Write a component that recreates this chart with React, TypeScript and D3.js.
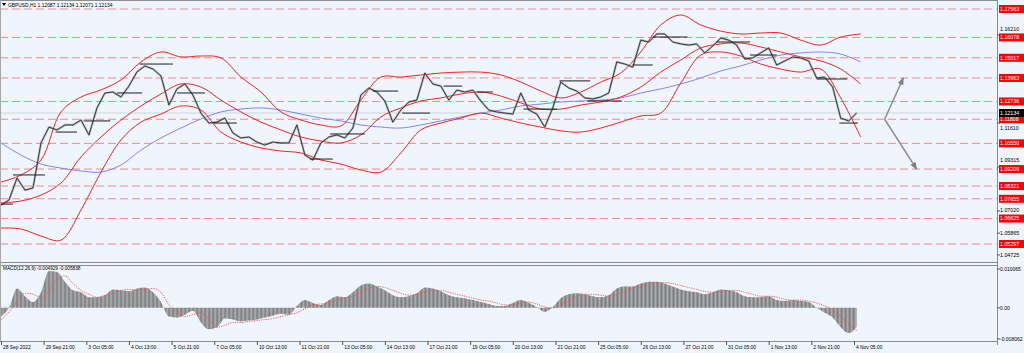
import * as d3 from "d3";

// GBPUSD H1 closes, one value every 6 bars
const closes = [
  1.0733, 1.0759, 1.0874, 1.0811, 1.0822, 1.1057, 1.114, 1.1125, 1.1151, 1.1151,
  1.1177, 1.1099, 1.124, 1.1318, 1.1323, 1.1297, 1.1354, 1.1428, 1.1459, 1.1443,
  1.1407, 1.1255, 1.1339, 1.1365, 1.1307, 1.1213, 1.1161, 1.1166, 1.1187, 1.1109,
  1.1083, 1.1088, 1.1062, 1.1046, 1.1062, 1.1057, 1.1057, 1.1151, 1.0994, 1.0968,
  1.1057, 1.1088, 1.1099, 1.1083, 1.1135, 1.1307, 1.1344, 1.1323, 1.1276, 1.1166,
  1.1229, 1.1271, 1.1281, 1.1422, 1.1365, 1.1354, 1.1281, 1.1333, 1.1323, 1.1333,
  1.1276, 1.1229, 1.1219, 1.1213, 1.1208, 1.1318, 1.1229, 1.1208, 1.114, 1.124,
  1.1375, 1.1344, 1.1328, 1.1292, 1.1287, 1.1297, 1.1318, 1.148, 1.1469, 1.1453,
  1.1594, 1.1584, 1.1626, 1.1626, 1.1584, 1.1574, 1.1568, 1.1574, 1.1527, 1.1563,
  1.1605, 1.1594, 1.1568, 1.1495, 1.1501, 1.1527, 1.1553, 1.1464, 1.1485, 1.1506,
  1.1501, 1.1485, 1.1396, 1.1401, 1.1349, 1.1187, 1.1172, 1.12134,
];

// Bollinger bands + slow MA, one value every 15 bars
const upperBand = [
  1.0853, 1.089, 1.0968, 1.1219, 1.1297, 1.1334, 1.1386, 1.148, 1.1532, 1.1506,
  1.1511, 1.1501, 1.1401, 1.1323, 1.1219, 1.1177, 1.1151, 1.1146, 1.1281, 1.1401,
  1.1401, 1.1412, 1.1422, 1.1427, 1.1427, 1.1412, 1.1375, 1.1328, 1.1292, 1.1323,
  1.1375, 1.1422, 1.1532, 1.1673, 1.1725, 1.1673, 1.1641, 1.1626, 1.1631, 1.1631,
  1.1594, 1.1568, 1.161, 1.1626,
];
const middleBand = [
  1.0744, 1.0754, 1.0785, 1.0848, 1.0984, 1.1088, 1.1177, 1.125, 1.1313, 1.1365,
  1.1349, 1.1281, 1.1219, 1.1166, 1.1125, 1.1088, 1.1067, 1.1057, 1.1099, 1.1193,
  1.124, 1.1276, 1.1292, 1.1313, 1.1323, 1.1302, 1.1266, 1.1234, 1.1234, 1.1255,
  1.1271, 1.1297, 1.1349, 1.1427, 1.149, 1.1553, 1.1574, 1.1579, 1.1558, 1.1532,
  1.1506, 1.1485, 1.1443, 1.1365,
];
const lowerBand = [
  1.0613, 1.0608, 1.0571, 1.055, 1.0707, 1.0905, 1.1073, 1.1166, 1.1208, 1.125,
  1.1229, 1.1114, 1.1062, 1.1031, 1.1015, 1.1005, 1.0968, 1.0947, 1.0916, 1.0905,
  1.1005, 1.1125, 1.1161, 1.1187, 1.1213, 1.1187, 1.1161, 1.114, 1.112, 1.1114,
  1.1135, 1.1166, 1.1198, 1.1213, 1.137, 1.1516, 1.1532, 1.1511, 1.1469, 1.1443,
  1.1427, 1.1443, 1.1292, 1.1088,
];
const slowMa = [
  1.1057, 1.0994, 1.0947, 1.0926, 1.0911, 1.0905, 1.0942, 1.102, 1.1083, 1.1135,
  1.1182, 1.1219, 1.1234, 1.124, 1.1229, 1.1208, 1.1187, 1.1172, 1.1151, 1.114,
  1.1135, 1.1151, 1.1172, 1.1193, 1.1213, 1.1229, 1.125, 1.126, 1.1271, 1.1276,
  1.1281, 1.1292, 1.1318, 1.1339, 1.1365, 1.1396, 1.1433, 1.1459, 1.149, 1.1516,
  1.1527, 1.1532, 1.1521, 1.148,
];

// MACD(12,26,9), every 6 bars
const macdHist = [
  -0.00226, 0, 0.00503, 0.00302, 0.00151, 0.00403, 0.00956, 0.00931, 0.00679, 0.00453,
  0.00403, 0.00277, 0.00277, 0.00327, 0.00478, 0.00453, 0.00428, 0.00503, 0.00528, 0.00403,
  0.00151, -0.00226, -0.00252, -0.00176, -0.00075, -0.00377, -0.00553, -0.00503, -0.00277, -0.00302,
  -0.00352, -0.00327, -0.00302, -0.00252, -0.00201, -0.00151, -0.00176, 0.0005, 0.00201, 0.00126,
  0.00075, 0.00201, 0.00302, 0.00277, 0.00403, 0.00579, 0.00629, 0.00554, 0.00453, 0.00327,
  0.00277, 0.00302, 0.00377, 0.00528, 0.00503, 0.00428, 0.00327, 0.00277, 0.00252, 0.00201,
  0.00151, 0.00101, 0.0005, 0.0005, 0.00126, 0.00201, 0.00126, 0.00025, -0.00101, 0.00025,
  0.00252, 0.00352, 0.00377, 0.00352, 0.00302, 0.00277, 0.00327, 0.00503, 0.00554, 0.00554,
  0.00629, 0.00679, 0.00679, 0.00629, 0.00554, 0.00478, 0.00428, 0.00403, 0.00352, 0.00403,
  0.00478, 0.00453, 0.00403, 0.00302, 0.00277, 0.00277, 0.00302, 0.00201, 0.00176, 0.00201,
  0.00176, 0.00151, 0, -0.00126, -0.00252, -0.00503, -0.00654, -0.004929,
];
const macdSignal = [
  -0.00302, -0.00101, 0.00151, 0.00377, 0.00352, 0.00277, 0.00453, 0.0073, 0.0083, 0.00629,
  0.00453, 0.00352, 0.00277, 0.00327, 0.00403, 0.00453, 0.00478, 0.00453, 0.00478, 0.00503,
  0.00403, 0.00075, -0.00101, -0.00226, -0.00176, -0.00126, -0.00302, -0.00503, -0.00453, -0.00377,
  -0.00377, -0.00352, -0.00327, -0.00302, -0.00277, -0.00226, -0.00176, -0.00126, -0.00025, 0.00075,
  0.00101, 0.00126, 0.00201, 0.00252, 0.00302, 0.00403, 0.00503, 0.00554, 0.00528, 0.00453,
  0.00377, 0.00327, 0.00352, 0.00403, 0.00453, 0.00453, 0.00403, 0.00352, 0.00302, 0.00252,
  0.00201, 0.00176, 0.00126, 0.00075, 0.00075, 0.00126, 0.00151, 0.00101, 0.00025, 0,
  0.00075, 0.00201, 0.00302, 0.00352, 0.00352, 0.00327, 0.00302, 0.00352, 0.00428, 0.00503,
  0.00554, 0.00604, 0.00654, 0.00654, 0.00629, 0.00579, 0.00528, 0.00478, 0.00428, 0.00403,
  0.00428, 0.00453, 0.00453, 0.00403, 0.00352, 0.00302, 0.00302, 0.00277, 0.00226, 0.00201,
  0.00201, 0.00176, 0.00126, 0.0005, -0.0005, -0.00226, -0.00428, -0.005838,
];

// horizontal levels (red dashed lines with red price tags)
const levels = [
  1.17563, 1.16078, 1.15017, 1.13963, 1.12736, 1.11808, 1.1055, 1.09209, 1.08321,
  1.07655, 1.06625, 1.05297,
];
// grid tick labels that show on the axis; the first three peek out beside a red tag
const gridTicks = [1.1621, 1.1161, 1.09315, 1.0702, 1.05865, 1.04725];
const currentPrice = 1.12134;

// short black segments: [startBar, endBar, price]
const dayOpens: [number, number, number][] = [
  [0, 9, 1.0738], [9, 33, 1.089], [41, 57, 1.1114], [62, 82, 1.1172], [87, 106, 1.1318],
  [104, 129, 1.1469], [132, 153, 1.1318], [159, 177, 1.1161], [232, 249, 1.0973],
  [247, 273, 1.1104], [279, 298, 1.1328], [301, 322, 1.1213], [332, 346, 1.1354],
  [357, 369, 1.1323], [392, 417, 1.1234], [419, 442, 1.1381], [440, 466, 1.1276],
  [474, 489, 1.1464], [489, 515, 1.161], [537, 562, 1.1584], [562, 582, 1.1516],
  [612, 635, 1.1391], [629, 643, 1.1161],
];

// projection arrows: [bar, price]
const arrowFrom: [number, number] = [663, 1.11808];
const arrowTo: [number, number][] = [[677, 1.13963], [687, 1.09209]];

const timeLabels = [
  "28 Sep 2022", "29 Sep 21:00", "3 Oct 05:00", "4 Oct 13:00", "5 Oct 21:00", "7 Oct 05:00",
  "10 Oct 13:00", "11 Oct 21:00", "13 Oct 05:00", "14 Oct 13:00", "17 Oct 21:00", "19 Oct 05:00",
  "20 Oct 13:00", "21 Oct 21:00", "25 Oct 05:00", "26 Oct 13:00", "27 Oct 21:00", "31 Oct 05:00",
  "1 Nov 13:00", "2 Nov 21:00", "4 Nov 05:00",
];
const macdTicks = [0.010065, 0, -0.008062];
const macdTickText = ["0.010065", "0.00", "-0.008062"];

const FONT = "'Liberation Sans', Arial, sans-serif";
const BG = "#eef5fc";

export default function App() {
  const width = 1024;
  const height = 353;
  const plotRight = 997;
  const mainBottom = 262;
  const macdTop = 265;
  const macdBottom = 341;

  const x = d3.scaleLinear().domain([0, 640]).range([1, 854]);
  const y = d3.scaleLinear().domain([1.04722, 1.18033]).range([255, 0]);
  const ym = d3.scaleLinear().domain([-0.008062, 0.010065]).range([339, 269]);
  const priceStep = 6;
  const bandStep = 15;

  const priceLine = d3
    .line<number>()
    .x((_, i) => x(i * priceStep))
    .y((d) => y(d));
  const bandLine = d3
    .line<number>()
    .x((_, i) => x(i * bandStep))
    .y((d) => y(d))
    .curve(d3.curveCatmullRom);
  const histArea = d3
    .area<number>()
    .x((_, i) => x(i * priceStep))
    .y0(ym(0))
    .y1((d) => ym(d))
    .curve(d3.curveMonotoneX);
  const signalLine = d3
    .line<number>()
    .x((_, i) => x(i * priceStep))
    .y((d) => ym(d))
    .curve(d3.curveMonotoneX);

  // tick text that would sit under a red tag is pushed just beside it
  const tickTextY = (v: number) => {
    const ty = y(v);
    const hit = [...levels, currentPrice].find((l) => Math.abs(y(l) - ty) < 8.5);
    if (hit === undefined) return ty;
    const ly = y(hit);
    return ty < ly ? ly - 8.5 : ly + 8.5;
  };

  return (
    <div style={{ position: "fixed", left: 0, top: 0 }}>
      <svg width={width} height={height} style={{ display: "block", background: BG }}>
        <defs>
          <clipPath id="mainClip">
            <rect x={0} y={0} width={plotRight} height={mainBottom} />
          </clipPath>
          <clipPath id="macdClip">
            <rect x={0} y={macdTop} width={plotRight} height={macdBottom - macdTop} />
          </clipPath>
          <pattern id="bars" width={1.333} height={4} patternUnits="userSpaceOnUse">
            <rect x={0} y={0} width={1.05} height={4} fill="#7c7c7c" />
          </pattern>
          <marker id="arrowHead" viewBox="0 0 10 10" refX={9} refY={5} markerWidth={5} markerHeight={5} orient="auto">
            <path d="M0,1 L10,5 L0,9 z" fill="#7d7d7d" />
          </marker>
        </defs>

        {/* main panel */}
        <g clipPath="url(#mainClip)">
          {levels.map((v) => (
            <line key={v} x1={0} x2={plotRight} y1={y(v)} y2={y(v)} stroke="#f28a8a" strokeWidth={1} strokeDasharray="8,4" />
          ))}
          <line x1={0} x2={plotRight} y1={y(currentPrice)} y2={y(currentPrice)} stroke="#cfd6dd" strokeWidth={1} />

          <path d={bandLine(slowMa) ?? ""} fill="none" stroke="#8585f2" strokeWidth={1} />
          <path d={bandLine(upperBand) ?? ""} fill="none" stroke="#ff1f1f" strokeWidth={1} />
          <path d={bandLine(middleBand) ?? ""} fill="none" stroke="#ff1f1f" strokeWidth={1} />
          <path d={bandLine(lowerBand) ?? ""} fill="none" stroke="#ff1f1f" strokeWidth={1} />

          <path d={priceLine(closes) ?? ""} fill="none" stroke="#8f8f8f" strokeWidth={2.2} strokeOpacity={0.6} strokeLinejoin="round" />
          <path d={priceLine(closes) ?? ""} fill="none" stroke="#2e2e2e" strokeWidth={0.9} strokeLinejoin="round" />

          {dayOpens.map(([b0, b1, p], i) => (
            <line key={i} x1={x(b0)} x2={x(b1)} y1={y(p)} y2={y(p)} stroke="#1e1e1e" strokeWidth={1} />
          ))}

          {arrowTo.map(([b, p], i) => (
            <line
              key={i}
              x1={x(arrowFrom[0])}
              y1={y(arrowFrom[1])}
              x2={x(b)}
              y2={y(p)}
              stroke="#8d8d8d"
              strokeWidth={1.5}
              markerEnd="url(#arrowHead)"
            />
          ))}
        </g>

        {/* title */}
        <path d="M2,3 L6,3 L4,6 z" fill="#000" />
        <text x={8} y={7} fontFamily={FONT} fontSize={4.9} fill="#000">
          GBPUSD,H1  1.12087 1.12134 1.12071 1.12134
        </text>

        {/* MACD panel */}
        <g clipPath="url(#macdClip)">
          <path d={histArea(macdHist) ?? ""} fill="url(#bars)" />
          <path d={signalLine(macdSignal) ?? ""} fill="none" stroke="#ff4a4a" strokeWidth={0.9} strokeDasharray="1.2,1.2" />
        </g>
        <text x={3} y={270} fontFamily={FONT} fontSize={4.7} fill="#000">
          MACD(12,26,9) -0.004929 -0.005838
        </text>

        {/* frames */}
        <line x1={0} x2={plotRight} y1={0.5} y2={0.5} stroke="#8c8c8c" />
        <line x1={0} x2={plotRight} y1={mainBottom + 0.5} y2={mainBottom + 0.5} stroke="#8c8c8c" />
        <line x1={0} x2={plotRight} y1={macdTop + 0.5} y2={macdTop + 0.5} stroke="#8c8c8c" />
        <line x1={0} x2={plotRight} y1={macdBottom + 0.5} y2={macdBottom + 0.5} stroke="#8c8c8c" />
        <line x1={0.5} x2={0.5} y1={0} y2={macdBottom} stroke="#a8a8a8" />
        <line x1={plotRight + 0.5} x2={plotRight + 0.5} y1={0} y2={macdBottom + 4} stroke="#8c8c8c" />

        {/* right price axis */}
        {gridTicks.map((v) => (
          <g key={v}>
            <line x1={plotRight} x2={plotRight + 3} y1={y(v)} y2={y(v)} stroke="#555" />
            <text x={plotRight + 3} y={tickTextY(v)} dy="0.35em" fontFamily={FONT} fontSize={5.3} fill="#000">
              {v.toFixed(5)}
            </text>
          </g>
        ))}
        {levels.map((v) => (
          <g key={v}>
            <rect x={plotRight + 2} y={y(v) - 4} width={25} height={8} fill="#ff0000" />
            <text x={plotRight + 3} y={y(v)} dy="0.35em" fontFamily={FONT} fontSize={5.3} fill="#fff">
              {v.toFixed(5)}
            </text>
          </g>
        ))}
        <rect x={plotRight + 2} y={y(currentPrice) - 4} width={25} height={8} fill="#000" />
        <text x={plotRight + 3} y={y(currentPrice)} dy="0.35em" fontFamily={FONT} fontSize={5.3} fill="#fff">
          {currentPrice.toFixed(5)}
        </text>

        {/* MACD axis */}
        {macdTicks.map((v, i) => (
          <g key={v}>
            <line x1={plotRight} x2={plotRight + 3} y1={ym(v)} y2={ym(v)} stroke="#555" />
            <text x={plotRight + 3} y={ym(v)} dy="0.35em" fontFamily={FONT} fontSize={5} fill="#000">
              {macdTickText[i]}
            </text>
          </g>
        ))}

        {/* time axis */}
        {timeLabels.map((t, i) => (
          <g key={t}>
            <line x1={x(i * 32) + 0.5} x2={x(i * 32) + 0.5} y1={macdBottom} y2={macdBottom + 4} stroke="#555" />
            <text x={x(i * 32) + 2} y={349} fontFamily={FONT} fontSize={4.9} fill="#000">
              {t}
            </text>
          </g>
        ))}
      </svg>
    </div>
  );
}
